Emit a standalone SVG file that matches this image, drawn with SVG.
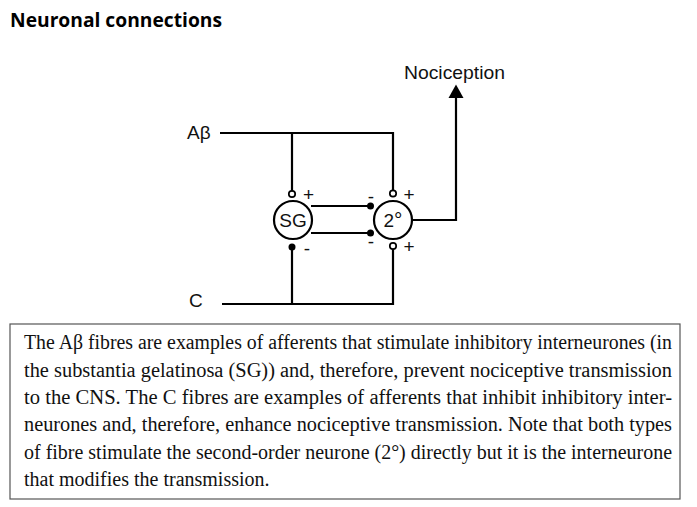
<svg xmlns="http://www.w3.org/2000/svg" width="697" height="507" viewBox="0 0 697 507">
<style>
.w{fill:none;stroke:#000;stroke-width:2.2}
.lbl{font-family:"Liberation Sans",Arial,sans-serif;fill:#111}
.cap{font-family:"Liberation Serif","Times New Roman",serif;font-size:20px;fill:#111}
.open{fill:#fff;stroke:#000;stroke-width:1.7}
.dot{fill:#000}
.sign{font-family:"Liberation Sans",Arial,sans-serif;font-size:19px;fill:#111}
</style>
<rect width="697" height="507" fill="#fff"/>
<text x="10" y="27" font-family="'Open Sans','Liberation Sans',sans-serif" font-weight="bold" font-size="19.5" textLength="212" lengthAdjust="spacingAndGlyphs" fill="#000">Neuronal connections</text>

<g id="connectors">
<path class="w" d="M220,133 H393 V191"/>
<path class="w" d="M292,133 V191"/>
<path class="w" d="M222,304 H393 V249"/>
<path class="w" d="M292,304 V247"/>
<path class="w" d="M311,206 H370"/>
<path class="w" d="M311,233 H370"/>
<path class="w" d="M413,220 H456 V97.5"/>
<path d="M448.5,98 L456,84.5 L463.5,98 Z" fill="#000"/>
<circle class="open" cx="292" cy="194" r="3.2"/>
<circle class="dot" cx="292" cy="247" r="3.5"/>
<circle class="dot" cx="370.5" cy="206" r="3.5"/>
<circle class="dot" cx="370.5" cy="233" r="3.5"/>
<circle class="open" cx="393" cy="193.5" r="3.2"/>
<circle class="open" cx="393" cy="246" r="3.2"/>
<text class="sign" x="308.5" y="200.5" text-anchor="middle">+</text>
<text class="sign" x="307" y="254.5" text-anchor="middle">-</text>
<text class="sign" x="371" y="202.5" text-anchor="middle">-</text>
<text class="sign" x="371" y="247.5" text-anchor="middle">-</text>
<text class="sign" x="409" y="200.5" text-anchor="middle">+</text>
<text class="sign" x="409" y="252.5" text-anchor="middle">+</text>
</g>

<g id="Abeta"><text class="lbl" x="187" y="139" font-size="19">Aβ</text></g>
<g id="C"><text class="lbl" x="189" y="307" font-size="19">C</text></g>
<g id="nociception"><text class="lbl" x="404" y="79" font-size="19" textLength="101" lengthAdjust="spacingAndGlyphs">Nociception</text></g>
<g id="SG">
<circle class="w" cx="293" cy="220" r="19"/>
<text class="lbl" x="293" y="227" font-size="19" text-anchor="middle">SG</text>
</g>
<g id="second">
<circle class="w" cx="393" cy="220" r="19"/>
<text class="lbl" x="393" y="227" font-size="19" text-anchor="middle">2<tspan font-size="21">°</tspan></text>
</g>

<g id="caption">
<rect x="10" y="324" width="670" height="175" fill="none" stroke="#555" stroke-width="1.2"/>
<text class="cap" x="24" y="349" textLength="648" lengthAdjust="spacingAndGlyphs">The Aβ fibres are examples of afferents that stimulate inhibitory interneurones (in</text>
<text class="cap" x="24" y="376.5" textLength="648" lengthAdjust="spacingAndGlyphs">the substantia gelatinosa (SG)) and, therefore, prevent nociceptive transmission</text>
<text class="cap" x="24" y="404" textLength="648" lengthAdjust="spacingAndGlyphs">to the CNS. The C fibres are examples of afferents that inhibit inhibitory inter-</text>
<text class="cap" x="24" y="431" textLength="648" lengthAdjust="spacingAndGlyphs">neurones and, therefore, enhance nociceptive transmission. Note that both types</text>
<text class="cap" x="24" y="458.5" textLength="648" lengthAdjust="spacingAndGlyphs">of fibre stimulate the second-order neurone (2°) directly but it is the interneurone</text>
<text class="cap" x="24" y="486">that modifies the transmission.</text>
</g>
</svg>
